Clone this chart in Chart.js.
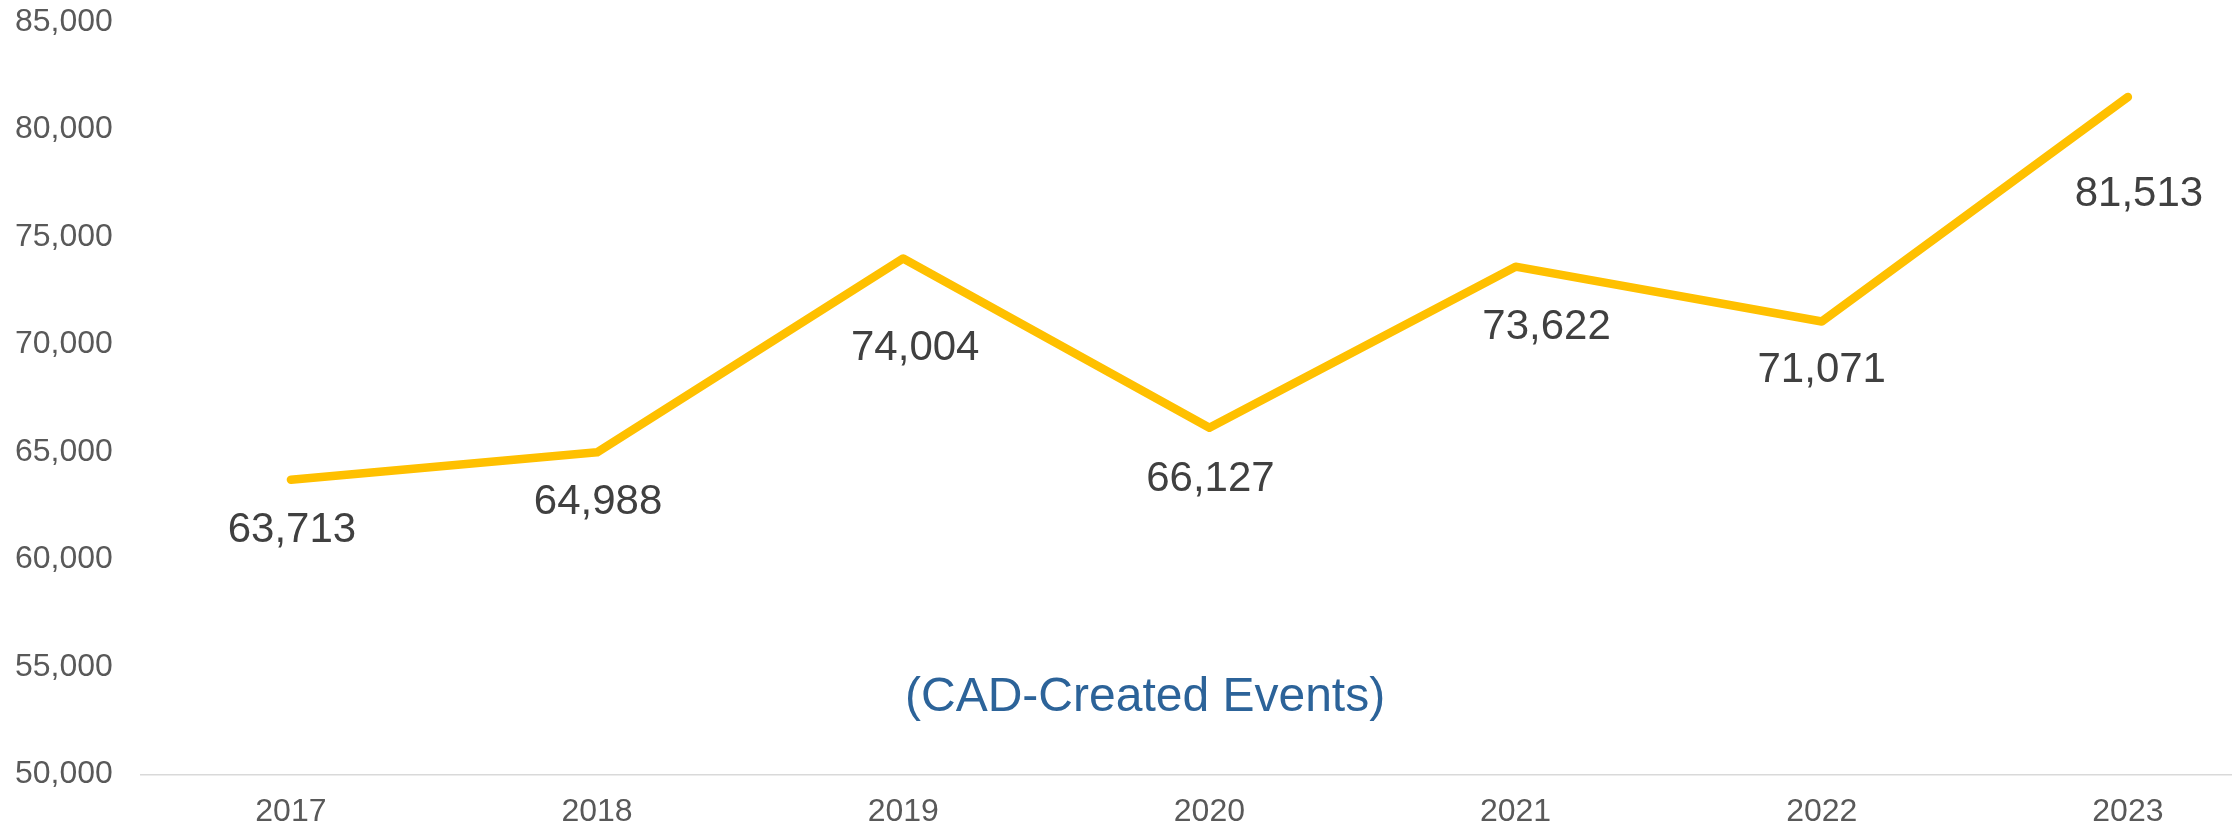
<!DOCTYPE html>
<html>
<head>
<meta charset="utf-8">
<script src="https://cdn.jsdelivr.net/npm/chart.js@4"></script>
<style>
  html, body { margin: 0; padding: 0; background: #fff; overflow: hidden; }
  #wrap { width: 2232px; height: 829px; position: relative; }
</style>
</head>
<body>
<div id="wrap"><canvas id="eventChart"></canvas></div>
<script>
const years = ['2017', '2018', '2019', '2020', '2021', '2022', '2023'];
const events = [63713, 64988, 74004, 66127, 73622, 71071, 81513];
const yTicks = [50000, 55000, 60000, 65000, 70000, 75000, 80000, 85000];
const note = '(CAD-Created Events)';

const FONT = '"Liberation Sans", Arial, sans-serif';
const fmt = v => v.toLocaleString('en-US');

// where each value label sits relative to its point (Excel placed them by hand)
const labelShift = [[1, 47], [1, 47], [12, 87], [1, 48], [31, 57], [0, 45], [11, 94]];
const LABEL_SIZE = 42;

// value labels under the line
const valueLabels = {
  id: 'valueLabels',
  afterDatasetsDraw(chart) {
    const { ctx } = chart;
    const meta = chart.getDatasetMeta(0);
    ctx.save();
    ctx.font = LABEL_SIZE + 'px ' + FONT;
    ctx.fillStyle = '#404040';
    ctx.textAlign = 'center';
    ctx.textBaseline = 'alphabetic';
    meta.data.forEach((pt, i) => {
      const [dx, dy] = labelShift[i];
      ctx.fillText(fmt(events[i]), pt.x + dx, pt.y + dy + 0.358 * LABEL_SIZE);
    });
    ctx.restore();
  }
};

// the "(CAD-Created Events)" note inside the plot
const noteText = {
  id: 'noteText',
  afterDraw(chart) {
    const { ctx, scales } = chart;
    ctx.save();
    ctx.font = '48px ' + FONT;
    ctx.fillStyle = '#2C6399';
    ctx.textAlign = 'center';
    ctx.textBaseline = 'alphabetic';
    ctx.fillText(note, scales.x.getPixelForValue(2.79), scales.y.getPixelForValue(52950));
    ctx.restore();
  }
};

// no automatic room for half-labels; layout padding decides the plot box
const noLabelPadding = axis => {
  axis.paddingTop = 0;
  axis.paddingBottom = 0;
  axis.paddingLeft = 0;
  axis.paddingRight = 0;
};

const ctx = document.getElementById('eventChart').getContext('2d');
new Chart(ctx, {
  type: 'line',
  data: {
    datasets: [{
      data: events.map((v, i) => ({ x: i, y: v })),
      borderColor: '#FFC000',
      borderWidth: 8.5,
      borderCapStyle: 'round',
      borderJoinStyle: 'round',
      pointRadius: 0,
      pointHoverRadius: 0,
      tension: 0,
      fill: false
    }]
  },
  options: {
    responsive: true,
    maintainAspectRatio: false,
    animation: false,
    events: [],
    layout: { padding: { top: 22, left: -13, right: 0, bottom: -20 } },
    plugins: {
      legend: { display: false },
      tooltip: { enabled: false }
    },
    scales: {
      x: {
        type: 'linear',
        min: -0.49,
        max: 6.34,
        grid: { display: false, drawTicks: false },
        border: { display: true, color: '#D9D9D9', width: 1.5 },
        afterBuildTicks: axis => {
          axis.ticks = years.map((_, i) => ({ value: i }));
        },
        afterFit: noLabelPadding,
        ticks: {
          autoSkip: false,
          maxRotation: 0,
          padding: 18,
          color: '#595959',
          font: { family: FONT, size: 32 },
          callback: v => years[v] ?? ''
        }
      },
      y: {
        min: yTicks[0],
        max: yTicks[yTicks.length - 1],
        grid: { display: false, drawTicks: false },
        border: { display: false },
        afterBuildTicks: axis => {
          axis.ticks = yTicks.map(v => ({ value: v }));
        },
        afterFit: noLabelPadding,
        ticks: {
          padding: 28,
          color: '#595959',
          font: { family: FONT, size: 32 },
          callback: v => fmt(v)
        }
      }
    }
  },
  plugins: [valueLabels, noteText]
});
</script>
</body>
</html>
